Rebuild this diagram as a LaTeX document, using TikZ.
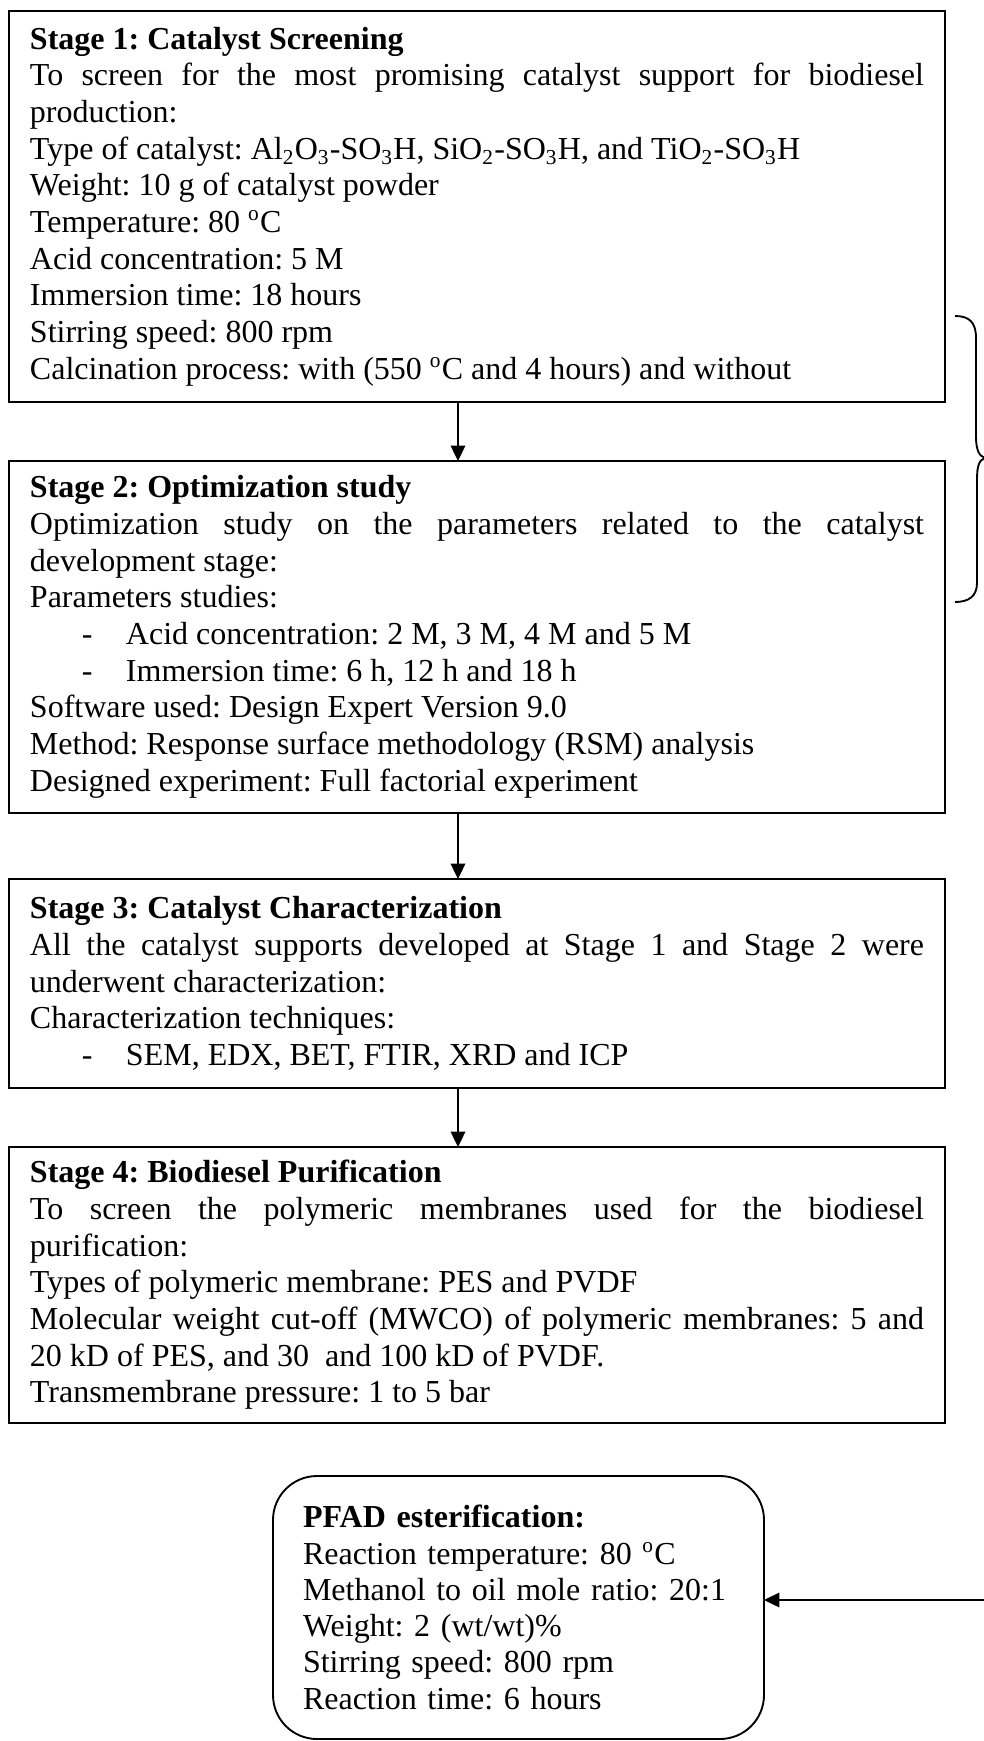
\documentclass[tikz,border=0pt]{standalone}
\usepackage{fontspec}
\setmainfont{Liberation Serif}
\usetikzlibrary{arrows.meta,calc}
\frenchspacing
\newcommand{\dashitem}{\hspace*{19.5pt}\makebox[16.5pt][l]{-}}
\newcommand{\degc}{\textsuperscript{o}C}
\begin{document}
\begin{tikzpicture}[x=0.375pt,y=-0.375pt,
  stagebox/.style={draw, line width=0.7pt, anchor=north west, outer sep=0pt,
    minimum width=351pt, text width=335.25pt, inner xsep=7.875pt, inner ysep=0pt,
    align=justify, font={\frenchspacing\fontsize{12}{13.75}\selectfont}},
  roundbox/.style={draw, line width=0.7pt, anchor=north west, outer sep=0pt,
    rounded corners=16.5pt, minimum width=184.125pt, minimum height=98.625pt,
    text width=161.625pt, inner xsep=11.25pt, inner ysep=0pt, align=left,
    font={\frenchspacing\fontsize{12}{13.6}\selectfont}},
  flow/.style={line width=0.6pt, -{Triangle[length=5.8pt,width=5.5pt]}},
  bracepath/.style={line width=0.7pt}]
\useasboundingbox (0,0) rectangle (984,1741);

\node[stagebox, minimum height=146.625pt] (s1) at (9,11) {\textbf{Stage 1: Catalyst Screening}\\
To screen for the most promising catalyst support for biodiesel\linebreak production:\\
Type of catalyst: Al\textsubscript{2}O\textsubscript{3}-SO\textsubscript{3}H, SiO\textsubscript{2}-SO\textsubscript{3}H, and TiO\textsubscript{2}-SO\textsubscript{3}H\\
Weight: 10 g of catalyst powder\\
Temperature: 80 \degc\\
Acid concentration: 5 M\\
Immersion time: 18 hours\\
Stirring speed: 800 rpm\\
Calcination process: with (550 \degc{} and 4 hours) and without};

\node[stagebox, minimum height=132pt] (s2) at (9,461) {\textbf{Stage 2: Optimization study}\\
Optimization study on the parameters related to the catalyst\linebreak development stage:\\
Parameters studies:\\
\dashitem Acid concentration: 2 M, 3 M, 4 M and 5 M\\
\dashitem Immersion time: 6 h, 12 h and 18 h\\
Software used: Design Expert Version 9.0\\
Method: Response surface methodology (RSM) analysis\\
Designed experiment: Full factorial experiment};

\node[stagebox, minimum height=78.375pt] (s3) at (9,879) {\textbf{Stage 3: Catalyst Characterization}\\
All the catalyst supports developed at Stage 1 and Stage 2 were\linebreak underwent characterization:\\
Characterization techniques:\\
\dashitem SEM, EDX, BET, FTIR, XRD and ICP};

\node[stagebox, minimum height=103.5pt] (s4) at (9,1147) {\textbf{Stage 4: Biodiesel Purification}\\
To screen the polymeric membranes used for the biodiesel\linebreak purification:\\
Types of polymeric membrane: PES and PVDF\\
Molecular weight cut-off (MWCO) of polymeric membranes: 5 and\linebreak 20 kD of PES, and 30\ \ and 100 kD of PVDF.\\
Transmembrane pressure: 1 to 5 bar};

\node[roundbox] (pf) at (273,1476) {\textbf{PFAD esterification:}\\
Reaction temperature: 80 \degc\\
Methanol to oil mole ratio: 20:1\\
Weight: 2 (wt/wt)\%\\
Stirring speed: 800 rpm\\
Reaction time: 6 hours};

\coordinate (ax) at (458,0);
\coordinate (feed) at (984,1600);

\draw[flow] (s1.south -| ax) -- (s2.north -| ax);
\draw[flow] (s2.south -| ax) -- (s3.north -| ax);
\draw[flow] (s3.south -| ax) -- (s4.north -| ax);
\draw[flow] (feed) -- (pf.east |- feed);

\draw[bracepath] (955,316) .. controls (969,316) and (976,322) .. (976,338)
  -- (976,436) .. controls (976,450) and (979,456) .. (985,458)
  .. controls (979,460) and (977,466) .. (977,480)
  -- (977,583) .. controls (977,596) and (969,602) .. (955,602);
\end{tikzpicture}
\end{document}
